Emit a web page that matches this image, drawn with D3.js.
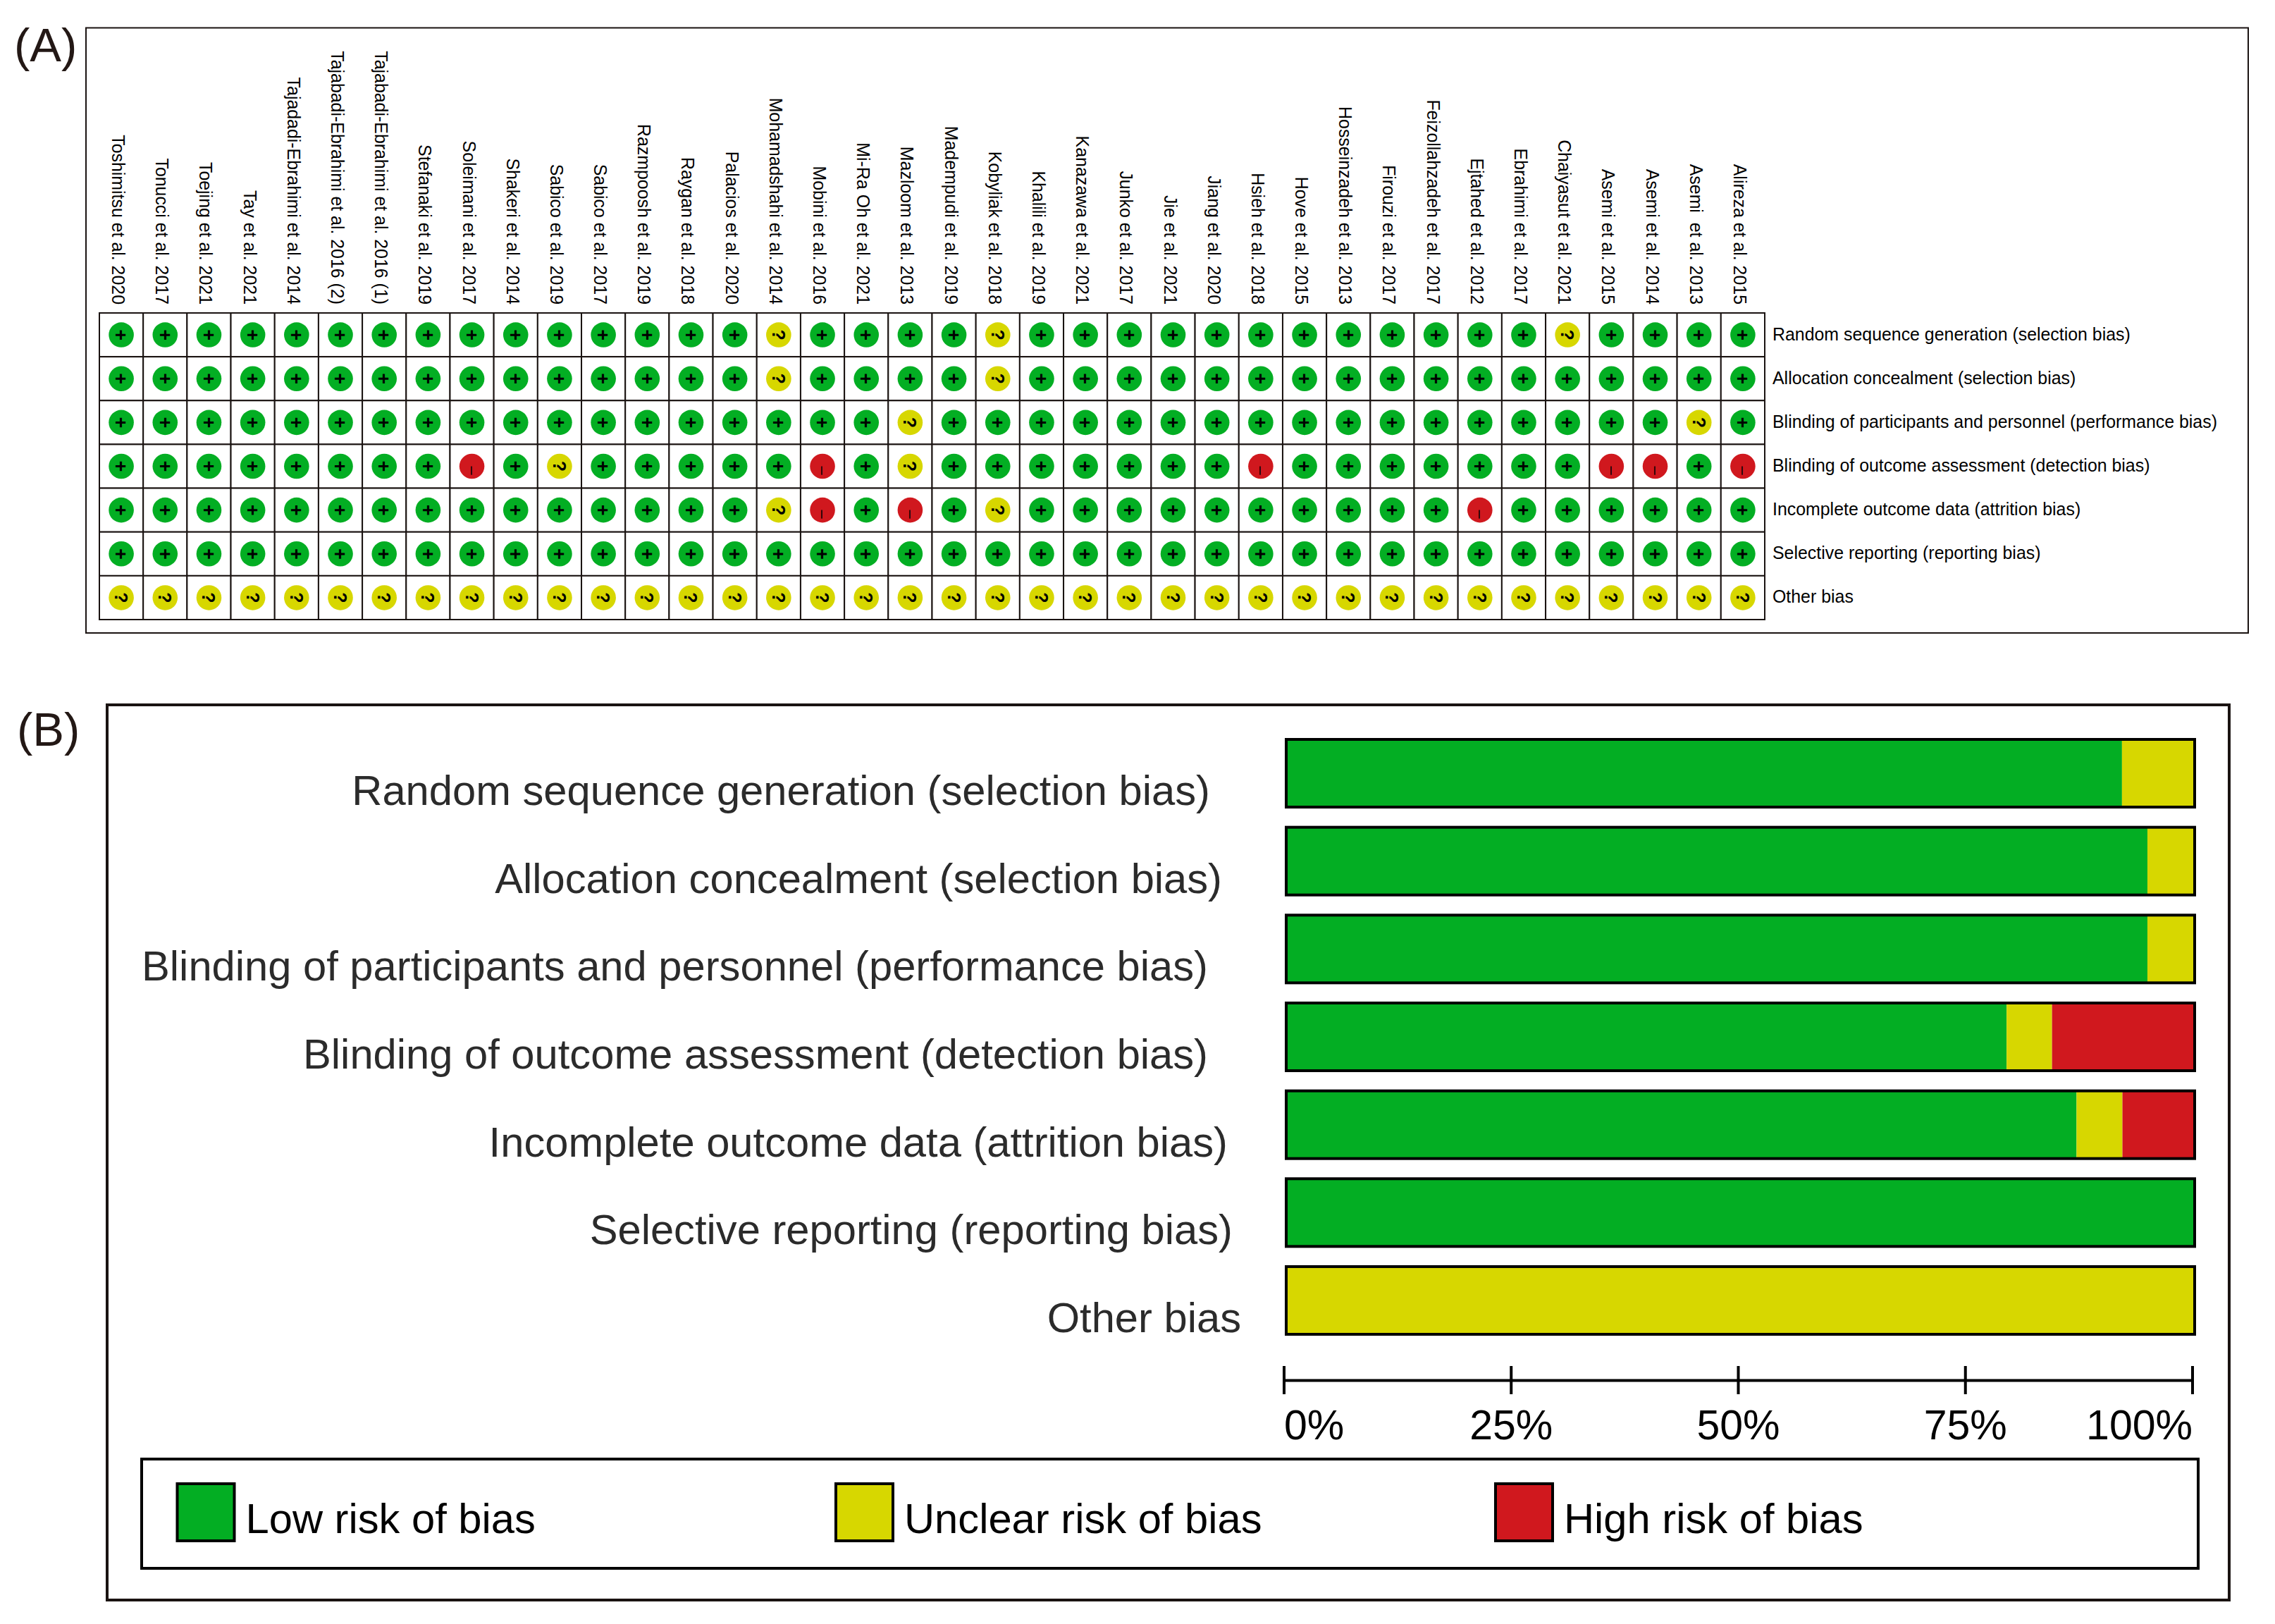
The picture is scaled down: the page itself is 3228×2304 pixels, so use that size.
<!DOCTYPE html>
<html>
<head>
<meta charset="utf-8">
<title>Risk of bias</title>
<script src="https://cdn.jsdelivr.net/npm/d3@7"></script>
<style>
  html, body { margin: 0; padding: 0; background: #fff; }
  svg { display: block; font-family: "Liberation Sans", Arial, sans-serif; }
</style>
</head>
<body>
<svg id="chart" width="3228" height="2304"></svg>
<script>
const studies = [
  "Toshimitsu et al. 2020", "Tonucci et al. 2017", "Toejing et al. 2021", "Tay et al. 2021",
  "Tajadadi-Ebrahimi et al. 2014", "Tajabadi-Ebrahimi et al. 2016 (2)", "Tajabadi-Ebrahimi et al. 2016 (1)",
  "Stefanaki et al. 2019", "Soleimani et al. 2017", "Shakeri et al. 2014", "Sabico et al. 2019",
  "Sabico et al. 2017", "Razmpoosh et al. 2019", "Raygan et al. 2018", "Palacios et al. 2020",
  "Mohamadshahi et al. 2014", "Mobini et al. 2016", "Mi-Ra Oh et al. 2021", "Mazloom et al. 2013",
  "Madempudi et al. 2019", "Kobyliak et al. 2018", "Khalili et al. 2019", "Kanazawa et al. 2021",
  "Junko et al. 2017", "Jie et al. 2021", "Jiang et al. 2020", "Hsieh et al. 2018", "Hove et al. 2015",
  "Hosseinzadeh et al. 2013", "Firouzi et al. 2017", "Feizollahzadeh et al. 2017", "Ejtahed et al. 2012",
  "Ebrahimi et al. 2017", "Chaiyasut et al. 2021", "Asemi et al. 2015", "Asemi et al. 2014",
  "Asemi  et al. 2013", "Alireza et al. 2015",
];

const domains = [
  "Random sequence generation (selection bias)",
  "Allocation concealment (selection bias)",
  "Blinding of participants and personnel (performance bias)",
  "Blinding of outcome assessment (detection bias)",
  "Incomplete outcome data (attrition bias)",
  "Selective reporting (reporting bias)",
  "Other bias",
];

// one judgement per study, same order as studies
const randomSequence = "+++++++++++++++?++++?++++++++++++?++++";
const allocation     = "+++++++++++++++?++++?+++++++++++++++++";
const blindingPeople = "++++++++++++++++++?+++++++++++++++++?+";
const blindingOutcome = "++++++++-+?+++++-+?+++++++-+++++++--+-";
const incomplete     = "+++++++++++++++?-+-+?++++++++++-++++++";
const selective      = "++++++++++++++++++++++++++++++++++++++";
const otherBias      = "??????????????????????????????????????";
const judgements = [randomSequence, allocation, blindingPeople, blindingOutcome, incomplete, selective, otherBias];

const lowRisk = [92, 94.8, 94.8, 79.3, 87, 100, 0];
const unclearRisk = [8, 5.2, 5.2, 5, 5.05, 0, 100];
const highRisk = [0, 0, 0, 15.7, 7.95, 0, 0];

const percentTicks = [0, 25, 50, 75, 100];
const legendLabels = ["Low risk of bias", "Unclear risk of bias", "High risk of bias"];

const green = "#03ae23";
const yellow = "#d7d700";
const red = "#d0181e";
const ink = "#1a1311";

const colorByMark = { "+": green, "?": yellow, "-": red };
const svg = d3.select("#chart");

// panel letters and frames
svg.append("text").attr("x", 20).attr("y", 87).attr("font-size", 67).attr("fill", "#231815").text("(A)");
svg.append("text").attr("x", 24).attr("y", 1058).attr("font-size", 67).attr("fill", "#231815").text("(B)");

svg.append("rect").attr("x", 122).attr("y", 39.5).attr("width", 3068).attr("height", 858.5)
  .attr("fill", "none").attr("stroke", ink).attr("stroke-width", 2);
svg.append("rect").attr("x", 152).attr("y", 1000).attr("width", 3011).attr("height", 1270)
  .attr("fill", "none").attr("stroke", ink).attr("stroke-width", 4);

// (A) risk of bias summary
const gridX = d3.scaleBand().domain(d3.range(studies.length)).range([141, 2504]);
const gridY = d3.scaleBand().domain(d3.range(domains.length)).range([444, 879]);
const summary = svg.append("g");

summary.selectAll(".study")
  .data(studies)
  .join("text")
  .attr("class", "study")
  .attr("transform", (d, i) => `translate(${gridX(i) + gridX.bandwidth() / 2 - 13},432) rotate(90)`)
  .attr("text-anchor", "end")
  .attr("font-size", 24.9)
  .attr("xml:space", "preserve")
  .style("white-space", "pre")
  .attr("fill", "#000")
  .text((d) => d);

summary.selectAll(".domain-label")
  .data(domains)
  .join("text")
  .attr("class", "domain-label")
  .attr("x", 2515)
  .attr("y", (d, i) => gridY(i) + gridY.bandwidth() / 2 + 7.5)
  .attr("font-size", 24.9)
  .attr("fill", "#000")
  .text((d) => d);

const cells = judgements.flatMap((row, r) => row.split("").map((mark, c) => ({ r, c, mark })));

summary.selectAll(".cell")
  .data(cells)
  .join("rect")
  .attr("class", "cell")
  .attr("x", (d) => gridX(d.c))
  .attr("y", (d) => gridY(d.r))
  .attr("width", gridX.bandwidth())
  .attr("height", gridY.bandwidth())
  .attr("fill", "#fff")
  .attr("stroke", ink)
  .attr("stroke-width", 2);

const marks = summary.selectAll(".mark")
  .data(cells)
  .join("g")
  .attr("class", "mark")
  .attr("transform", (d) => `translate(${gridX(d.c) + gridX.bandwidth() / 2},${gridY(d.r) + gridY.bandwidth() / 2})`);

marks.append("circle").attr("r", 17.8).attr("fill", (d) => colorByMark[d.mark]);

marks.append("text")
  .attr("transform", "rotate(90)")
  .attr("text-anchor", "middle")
  .attr("x", (d) => (d.mark === "-" ? 6 : 0))
  .attr("dy", (d) => (d.mark === "-" ? "0.3em" : "0.36em"))
  .attr("font-size", (d) => (d.mark === "+" ? 27 : d.mark === "?" ? 25 : 22))
  .attr("font-weight", (d) => (d.mark === "-" ? "normal" : "bold"))
  .attr("fill", "#000")
  .text((d) => (d.mark === "-" ? "\u2013" : d.mark));

// (B) risk of bias graph
const barX = d3.scaleLinear().domain([0, 100]).range([1825, 3114]);
const barY = d3.scaleBand().domain(d3.range(domains.length)).range([1049, 1893]).paddingInner(0.2295).paddingOuter(0);
const rowLabelEnds = [1717, 1734, 1714, 1714, 1742, 1749, 1761];

const graph = svg.append("g");

graph.selectAll(".graph-label")
  .data(domains)
  .join("text")
  .attr("class", "graph-label")
  .attr("x", (d, i) => rowLabelEnds[i])
  .attr("y", (d, i) => barY(i) + barY.bandwidth() - 3)
  .attr("text-anchor", "end")
  .attr("font-size", 59.7)
  .attr("fill", "#2b2b2b")
  .text((d) => d);

const stackRows = domains.map((d, i) => ({ i, low: lowRisk[i], unclear: unclearRisk[i], high: highRisk[i] }));
const stacked = d3.stack().keys(["low", "unclear", "high"])(stackRows);
const fillByKey = { low: green, unclear: yellow, high: red };

graph.selectAll(".series")
  .data(stacked)
  .join("g")
  .attr("class", "series")
  .attr("fill", (s) => fillByKey[s.key])
  .selectAll("rect")
  .data((s) => s)
  .join("rect")
  .attr("x", (d) => barX(d[0]))
  .attr("y", (d) => barY(d.data.i))
  .attr("width", (d) => barX(d[1]) - barX(d[0]))
  .attr("height", barY.bandwidth());

graph.selectAll(".bar-outline")
  .data(domains)
  .join("rect")
  .attr("class", "bar-outline")
  .attr("x", barX(0))
  .attr("y", (d, i) => barY(i))
  .attr("width", barX(100) - barX(0))
  .attr("height", barY.bandwidth())
  .attr("fill", "none")
  .attr("stroke", "#000")
  .attr("stroke-width", 4);

const axis = d3.axisBottom(barX)
  .tickValues(percentTicks)
  .tickSize(20)
  .tickSizeOuter(0)
  .tickFormat((d) => `${d}%`);

const axisGroup = graph.append("g")
  .attr("transform", "translate(-3.5,1958)")
  .call(axis);

axisGroup.select(".domain").attr("stroke", "#000").attr("stroke-width", 4);
axisGroup.selectAll(".tick line")
  .attr("y1", -20)
  .attr("y2", 20)
  .attr("stroke", "#000")
  .attr("stroke-width", 4);
axisGroup.selectAll(".tick text")
  .attr("y", 84)
  .attr("dy", 0)
  .attr("font-family", "Liberation Sans")
  .attr("font-size", 59)
  .attr("fill", "#000")
  .attr("text-anchor", (d) => (d === 0 ? "start" : d === 100 ? "end" : "middle"));

// legend
const legendSwatches = [green, yellow, red];
const legendX = [251.5, 1186, 2122];

graph.append("rect").attr("x", 201).attr("y", 2070).attr("width", 2918).attr("height", 155)
  .attr("fill", "none").attr("stroke", "#000").attr("stroke-width", 4);

const legendItems = graph.selectAll(".legend-item")
  .data(legendLabels)
  .join("g")
  .attr("class", "legend-item")
  .attr("transform", (d, i) => `translate(${legendX[i]},2105)`);

legendItems.append("rect")
  .attr("width", 81)
  .attr("height", 81)
  .attr("fill", (d, i) => legendSwatches[i])
  .attr("stroke", "#000")
  .attr("stroke-width", 4);

legendItems.append("text")
  .attr("x", 97)
  .attr("y", 70)
  .attr("font-size", 59.7)
  .attr("fill", "#000")
  .text((d) => d);
</script>
</body>
</html>
